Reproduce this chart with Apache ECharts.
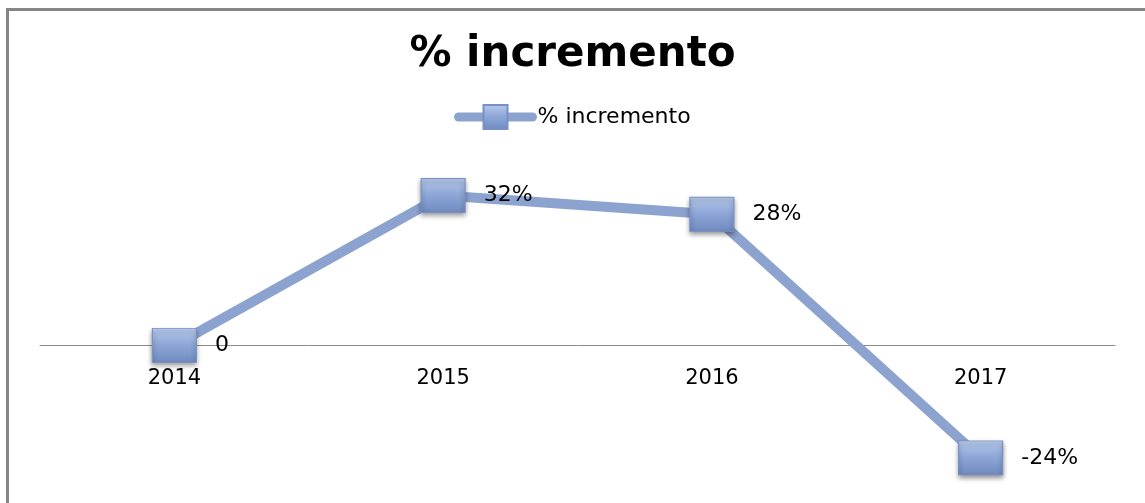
<!DOCTYPE html>
<html>
<head>
<meta charset="utf-8">
<script src="https://cdn.jsdelivr.net/npm/echarts@6/dist/echarts.min.js"></script>
<style>
  html, body { margin: 0; padding: 0; background: #fff; }
  .frame {
    position: absolute;
    left: 6px;
    top: 8px;
    width: 1160px;
    height: 520px;
    border-left: 3px solid #858585;
    border-top: 3px solid #858585;
  }
  #chart { position: absolute; left: 0; top: 0; width: 1145px; height: 503px; }
</style>
</head>
<body>
<div class="frame"></div>
<div id="chart"></div>
<script>
const years = ['2014', '2015', '2016', '2017']
const increments = [0, 32, 28, -24]
const pointLabels = ['0', '32%', '28%', '-24%']

const lineColor = '#8ca3d0'

const chart = echarts.init(document.getElementById('chart'))

const option = {
  animation: false,
  title: {
    text: '% incremento',
    left: 'center',
    top: 29,
    textStyle: {
      fontFamily: 'DejaVu Sans',
      fontSize: 42,
      fontWeight: 'bold',
      color: '#000'
    }
  },
  legend: {
    top: 99,
    left: 449,
    itemWidth: 74,
    itemHeight: 30,
    itemGap: 4,
    lineStyle: { width: 9, cap: 'round', color: lineColor },
    textStyle: {
      fontFamily: 'DejaVu Sans',
      fontSize: 22,
      color: '#000'
    },
    data: ['% incremento']
  },
  grid: {
    left: 40,
    right: 30,
    top: 158,
    height: 328,
    outerBoundsMode: 'none'
  },
  xAxis: {
    type: 'category',
    data: years,
    axisLine: { onZero: true, lineStyle: { color: '#8a8a8a', width: 1 } },
    axisTick: { show: false },
    axisLabel: {
      fontFamily: 'DejaVu Sans',
      fontSize: 21,
      color: '#000',
      // labels sit under the zero line, not the grid bottom
      margin: -118
    },
    splitLine: { show: false }
  },
  yAxis: {
    type: 'value',
    min: -30,
    max: 40,
    show: false,
    splitLine: { show: false }
  },
  series: [
    {
      name: '% incremento',
      type: 'line',
      data: increments,
      symbol: 'rect',
      symbolSize: [44, 34],
      lineStyle: { color: lineColor, width: 10 },
      itemStyle: {
        color: new echarts.graphic.LinearGradient(0, 0, 0, 1, [
          { offset: 0, color: '#b9cbeb' },
          { offset: 0.45, color: '#8fa8d8' },
          { offset: 1, color: '#6f8ac0' }
        ]),
        borderColor: '#7890c4',
        borderWidth: 1,
        shadowBlur: 5,
        shadowColor: 'rgba(0,0,0,0.45)',
        shadowOffsetY: 3
      },
      label: {
        show: true,
        position: 'right',
        distance: 18,
        fontFamily: 'DejaVu Sans',
        fontSize: 22,
        color: '#000',
        formatter: p => pointLabels[p.dataIndex]
      },
      emphasis: { disabled: true }
    }
  ]
}

chart.setOption(option)
</script>
</body>
</html>
